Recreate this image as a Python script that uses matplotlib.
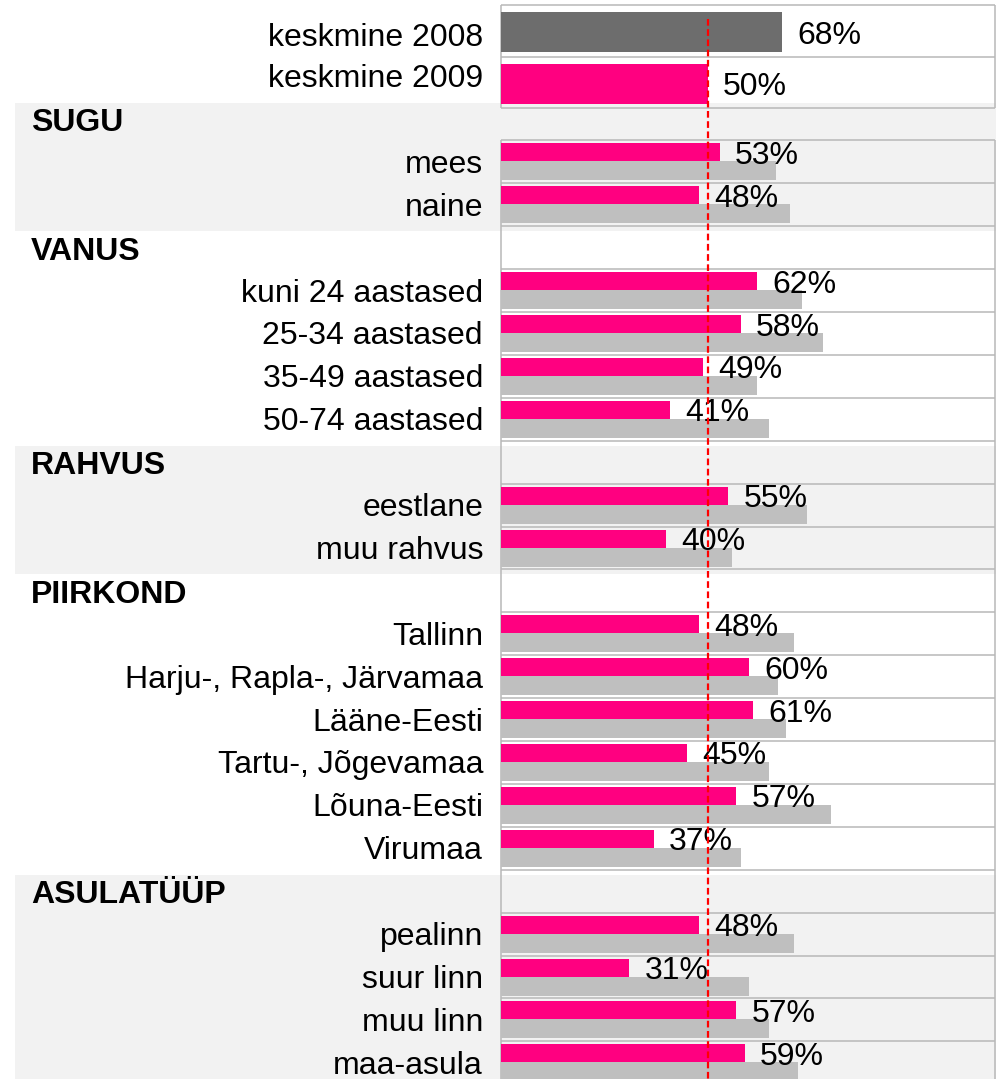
import matplotlib
matplotlib.use("Agg")
import matplotlib.pyplot as plt
from matplotlib.patches import Rectangle

# ---- data -------------------------------------------------------------
avg_labels = ["keskmine 2008", "keskmine 2009"]
avg_values = [68, 50]

group_titles = ["SUGU", "VANUS", "RAHVUS", "PIIRKOND", "ASULATÜÜP"]
group_sizes = [2, 4, 2, 6, 4]
categories = [
    "mees", "naine",
    "kuni 24 aastased", "25-34 aastased", "35-49 aastased", "50-74 aastased",
    "eestlane", "muu rahvus",
    "Tallinn", "Harju-, Rapla-, Järvamaa", "Lääne-Eesti",
    "Tartu-, Jõgevamaa", "Lõuna-Eesti", "Virumaa",
    "pealinn", "suur linn", "muu linn", "maa-asula",
]
values_2009 = [53, 48, 62, 58, 49, 41, 55, 40, 48, 60, 61, 45, 57, 37, 48, 31, 57, 59]
values_2008 = [66.5, 70, 73, 78, 62, 65, 74, 56, 71, 67, 69, 65, 80, 58, 71, 60, 65, 72]

# ---- style ------------------------------------------------------------
W, H, DPI = 996, 1079, 100
PINK = "#FF0080"
DARK = "#6D6D6D"
LIGHT = "#BFBFBF"
BAND = "#F2F2F2"
GRID = "#B8B8B8"
FS = 23

plt.rcParams["font.family"] = ["Liberation Sans", "DejaVu Sans"]

fig = plt.figure(figsize=(W / DPI, H / DPI), dpi=DPI)
fig.patch.set_facecolor("white")

# background layer in pixel units (bands + category labels)
bg = fig.add_axes([0, 0, 1, 1])
bg.set_xlim(0, W)
bg.set_ylim(H, 0)
bg.axis("off")

# bar layer: x in percent, y in pixel rows
X0, X1 = 501, 995
PX_PER_PCT = 4.13
XMAX = (X1 - X0) / PX_PER_PCT
ax = fig.add_axes([X0 / W, 0, (X1 - X0) / W, 1])
ax.set_xlim(0, XMAX)
ax.set_ylim(H, 0)
ax.axis("off")

line_kw = dict(colors=GRID, linewidth=1.1, clip_on=False, zorder=1)

# ---- averages box -----------------------------------------------------
top_rows = [(5, 57), (57, 108)]
top_label_baselines = [46, 87]
avg_colors = [DARK, PINK]
for (t, b), base, lab, v, c in zip(top_rows, top_label_baselines,
                                   avg_labels, avg_values, avg_colors):
    yc = (t + b) / 2 + 1
    ax.barh(yc, v, height=40, left=0, color=c, zorder=2)
    ax.annotate(f"{v}%", xy=(v, yc + 11.5), xytext=(11, 0),
                textcoords="offset points", ha="left", va="baseline",
                fontsize=FS, zorder=4)
    bg.text(483, base, lab, ha="right", va="baseline", fontsize=FS)
ax.hlines([5, 57, 108], 0, XMAX, **line_kw)
ax.vlines([0, XMAX], 5, 108, **line_kw)

# ---- grouped rows -----------------------------------------------------
ROW0, PITCH = 97.5, 42.9
row = 0
k = 0
for gi, (title, n) in enumerate(zip(group_titles, group_sizes)):
    header_top = ROW0 + PITCH * row
    last_bottom = ROW0 + PITCH * (row + n + 1)
    if gi % 2 == 0:
        bottom = H if gi == len(group_titles) - 1 else last_bottom + 5
        bg.add_patch(Rectangle((15, header_top + 5), W - 15, bottom - header_top - 5,
                               facecolor=BAND, edgecolor="none", zorder=0))
    bg.text(31, header_top + PITCH / 2 + 12, title, ha="left", va="baseline",
            fontsize=FS, fontweight="bold")
    row += 1
    for _ in range(n):
        t = ROW0 + PITCH * row
        ax.barh(t + 21, values_2008[k], height=19, left=0, align="edge",
                color=LIGHT, zorder=2)
        ax.barh(t + 3, values_2009[k], height=18, left=0, align="edge",
                color=PINK, zorder=3)
        ax.annotate(f"{values_2009[k]}%", xy=(values_2009[k], t + 12 + 11.5),
                    xytext=(11, 0), textcoords="offset points",
                    ha="left", va="baseline", fontsize=FS, zorder=4)
        bg.text(483, t + PITCH / 2 + 11, categories[k], ha="right",
                va="baseline", fontsize=FS)
        row += 1
        k += 1

# table grid for the grouped section
n_rows = row
ax.hlines([ROW0 + PITCH * i for i in range(1, n_rows + 1)], 0, XMAX, **line_kw)
ax.vlines([0, XMAX], ROW0 + PITCH, H, **line_kw)

# 2009 average reference line
ax.vlines(avg_values[1], 19, H, colors="#FF0000", linewidth=1.6,
          linestyles=(0, (3, 1.6)), zorder=5)

fig.savefig("out.png", dpi=DPI, facecolor="white")
